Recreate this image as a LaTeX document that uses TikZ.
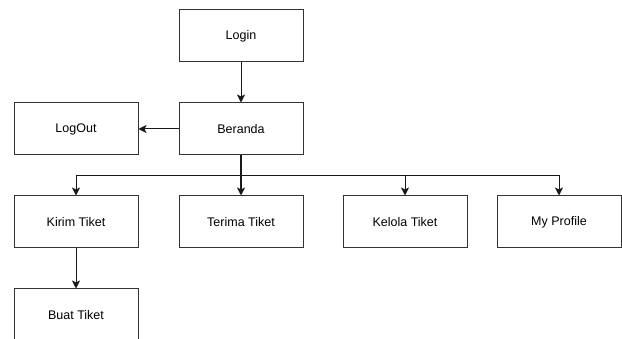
\documentclass[tikz,border=0pt]{standalone}
\usepackage{fontspec}
\setmainfont{Liberation Sans}
\usepackage{tikz}
\usetikzlibrary{arrows.meta}

\begin{document}
\begin{tikzpicture}[x=1pt, y=-1pt,
                    menu/.style={draw=black!80, line width=1pt, minimum width=124pt,
                                 minimum height=52pt, font=\fontsize{12.5}{14}\selectfont},
                    arr/.style={draw=black!90, line width=1pt,
                                -{Stealth[length=8pt, width=8pt, inset=2pt]}}]
  \useasboundingbox (0,0) rectangle (622,339);
  \node[menu] (login)   at (241,36)  {Login};
  \node[menu] (beranda) at (241,129) {Beranda};
  \node[menu] (logout)  at (76,129)  {LogOut};
  \node[menu] (kirim)   at (76,222)  {Kirim Tiket};
  \node[menu] (terima)  at (241,222) {Terima Tiket};
  \node[menu] (kelola)  at (405,222) {Kelola Tiket};
  \node[menu] (profile) at (559,222) {My Profile};
  \node[menu] (buat)    at (76,315)  {Buat Tiket};

  \draw[arr] (login) -- (beranda);
  \draw[arr] (beranda) -- (logout);
  \draw[arr] (beranda.south) -- ++(0,20) -| (kirim.north);
  \draw[arr, line width=1.6pt] (beranda.south) -- (terima.north);
  \draw[arr] (beranda.south) -- ++(0,20) -| (kelola.north);
  \draw[arr] (beranda.south) -- ++(0,20) -| (profile.north);
  \draw[arr] (kirim) -- (buat);
\end{tikzpicture}
\end{document}
